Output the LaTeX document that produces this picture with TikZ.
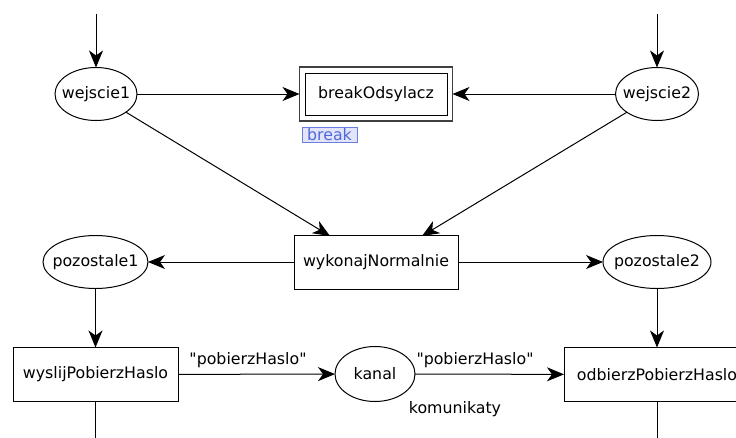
\documentclass[tikz,border=0pt]{standalone}
\usepackage{fontspec}
\setmainfont{DejaVu Sans}[Ligatures=TeXOff]
\usetikzlibrary{arrows.meta,shapes.geometric}
\definecolor{tagline}{HTML}{6A7EE0}
\definecolor{tagfill}{HTML}{E2E5F9}
\definecolor{tagtext}{HTML}{5068D8}
\begin{document}
\begin{tikzpicture}[x=1pt,y=-1pt,
  font=\fontsize{15.8}{19}\selectfont,
  every node/.style={inner sep=0pt,outer sep=0pt},
  place/.style={draw,line width=1pt,ellipse,inner xsep=-9pt,minimum height=53pt},
  trans/.style={draw,line width=1pt,rectangle,minimum height=54pt},
  arc/.style={line width=1pt,-{Stealth[length=17pt,width=14pt,inset=5pt]}},
  plain/.style={line width=1pt},
  lbl/.style={anchor=base}]
\useasboundingbox (0,0) rectangle (736,437);
\clip (0,0) rectangle (736,437);

% places
\node[place,minimum width=82pt] (w1) at (96,94) {wejscie1};
\node[place,minimum width=83pt] (w2) at (657,94) {wejscie2};
\node[place,minimum width=105pt] (p1) at (95.5,262) {pozostale1};
\node[place,minimum width=108pt] (p2) at (657,262) {pozostale2};
\node[place,minimum width=80pt,minimum height=55pt] (kan) at (375,374) {kanal};

% transitions
\node[draw,line width=1pt,minimum width=142pt,minimum height=42pt] (brk) at (376,94) {breakOdsylacz};
\node[draw,line width=1.3pt,draw=black!75,minimum width=153pt,minimum height=54pt] (brkout) at (376,94) {};
\node[trans,minimum width=164pt] (wyk) at (376,262) {wykonajNormalnie};
\node[trans,minimum width=165pt] (wys) at (95.5,374.5) {wyslijPobierzHaslo};
\node[trans,minimum width=186pt] (odb) at (657,374.5) {odbierzPobierzHaslo};

% break tag under the double box
\node[draw=tagline,fill=tagfill,text=tagtext,line width=1pt,minimum width=55pt,minimum height=15pt,anchor=north west] (tag) at (302,127) {break};

% free ends of connectors
\coordinate (in1) at (96,14);
\coordinate (in2) at (657,14);
\coordinate (out1) at (95.5,440);
\coordinate (out2) at (657,440);
\coordinate (wykA) at (330,236);
\coordinate (wykB) at (422,236);

% connectors
\draw[arc] (in1) -- (w1);
\draw[arc] (in2) -- (w2);
\draw[arc] (w1) -- (brkout.west);
\draw[arc] (w2) -- (brkout.east);
\draw[arc] (w1) -- (wykA);
\draw[arc] (w2) -- (wykB);
\draw[arc] (wyk) -- (p1);
\draw[arc] (wyk) -- (p2);
\draw[arc] (p1) -- (wys);
\draw[arc] (p2) -- (odb);
\draw[arc] (wys) -- (kan);
\draw[arc] (kan) -- (odb);
\draw[plain] (wys) -- (out1);
\draw[plain] (odb) -- (out2);

% arc inscriptions
\node[lbl] (ins1) at (248,364) {"pobierzHaslo"};
\node[lbl] (ins2) at (475,364) {"pobierzHaslo"};
\node[lbl] (cs) at (455,413) {komunikaty};
\end{tikzpicture}
\end{document}
